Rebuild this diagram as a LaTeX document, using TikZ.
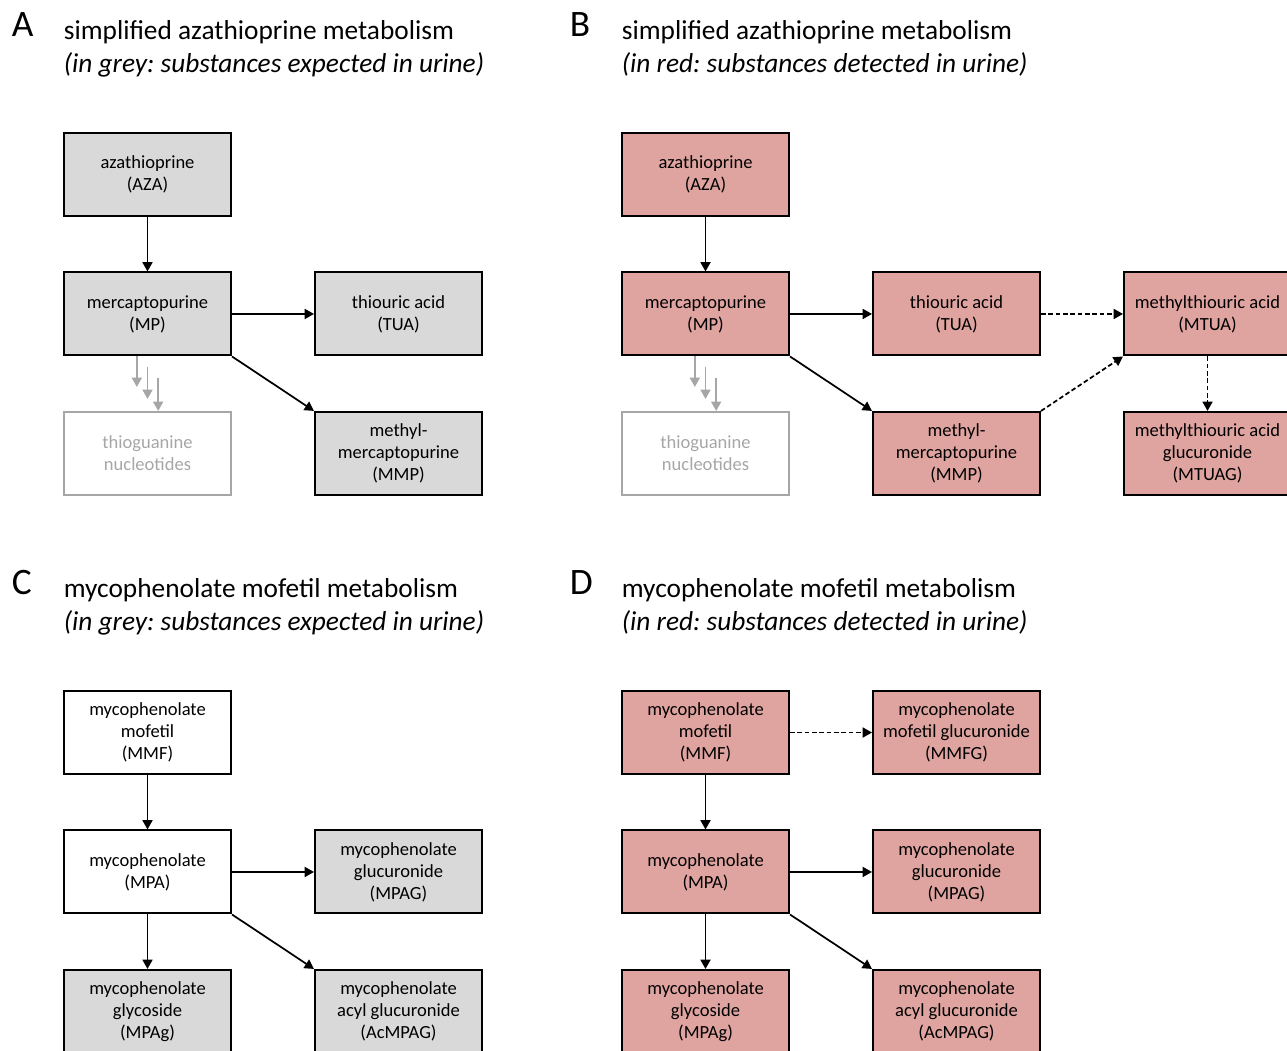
\documentclass[tikz,border=0pt]{standalone}
\usepackage{fontspec}
\setmainfont{Carlito}
\frenchspacing
\usetikzlibrary{positioning,arrows.meta}
\definecolor{boxgrey}{RGB}{217,217,217}
\definecolor{boxred}{RGB}{224,164,160}
\definecolor{fadegrey}{RGB}{166,166,166}

\begin{document}
\begin{tikzpicture}[x=0.75pt,y=-0.75pt,->,>={Triangle[length=7pt,width=7.5pt]},
    line width=1.3pt,node distance=104.6pt and 188.25pt,on grid,
    met/.style={draw,line width=1.5pt,minimum width=125.25pt,minimum height=62.25pt,
      inner sep=0pt,align=center,font=\fontsize{13.9}{16.5}\selectfont},
    exp/.style={met,fill=boxgrey},
    det/.style={met,fill=boxred},
    faded/.style={met,draw=fadegrey,text=fadegrey},
    lbl/.style={anchor=base west,inner sep=0pt,font=\fontsize{28}{32}\selectfont},
    ttl/.style={anchor=base west,inner sep=0pt,font=\fontsize{20.5}{24.7}\selectfont},
    maybe/.style={dash pattern=on 3.5pt off 2pt}]
  \useasboundingbox (0,0) rectangle (1287,1050);
  \clip (0,0) rectangle (1287,1050);

  % A
  \node[lbl] (labA) at (11,36) {A};
  \node[ttl] (titleA) at (63,39) {simplified azathioprine metabolism};
  \node[ttl] (noteA) at (63,72) {\itshape (in grey: substances expected in urine)};
  \node[exp] (azaA) at (147.5,174.5) {azathioprine\\(AZA)};
  \node[exp] (mpA) [below=of azaA] {mercaptopurine\\(MP)};
  \node[exp] (tuaA) [right=of mpA] {thiouric acid\\(TUA)};
  \node[faded] (tgnA) [below=of mpA] {thioguanine\\nucleotides};
  \node[exp] (mmpA) [below right=of mpA] {methyl-\\mercaptopurine\\(MMP)};
  \path (azaA) edge (mpA)
        (mpA) edge (tuaA)
        (mpA.south east) edge (mmpA.north west);
  \draw[fadegrey] ([xshift=-8pt]mpA.south) -- ([xshift=-8pt,yshift=18pt]tgnA.north);
  \draw[fadegrey] ([yshift=-8.25pt]mpA.south) -- ([yshift=9pt]tgnA.north);
  \draw[fadegrey] ([xshift=8pt,yshift=-16.5pt]mpA.south) -- ([xshift=8pt]tgnA.north);

  % B
  \node[lbl] (labB) at (569,36) {B};
  \node[ttl] (titleB) at (621,39) {simplified azathioprine metabolism};
  \node[ttl] (noteB) at (621,72) {\itshape (in red: substances detected in urine)};
  \node[det] (azaB) at (705.5,174.5) {azathioprine\\(AZA)};
  \node[det] (mpB) [below=of azaB] {mercaptopurine\\(MP)};
  \node[det] (tuaB) [right=of mpB] {thiouric acid\\(TUA)};
  \node[faded] (tgnB) [below=of mpB] {thioguanine\\nucleotides};
  \node[det] (mmpB) [below right=of mpB] {methyl-\\mercaptopurine\\(MMP)};
  \node[det] (mtuaB) [right=of tuaB] {methylthiouric acid\\(MTUA)};
  \node[det] (mtuagB) [below=of mtuaB] {methylthiouric acid\\glucuronide\\(MTUAG)};
  \path (azaB) edge (mpB)
        (mpB) edge (tuaB)
        (mpB.south east) edge (mmpB.north west);
  \path[maybe] (tuaB) edge (mtuaB)
        (mmpB.north east) edge (mtuaB.south west)
        (mtuaB) edge (mtuagB);
  \draw[fadegrey] ([xshift=-8pt]mpB.south) -- ([xshift=-8pt,yshift=18pt]tgnB.north);
  \draw[fadegrey] ([yshift=-8.25pt]mpB.south) -- ([yshift=9pt]tgnB.north);
  \draw[fadegrey] ([xshift=8pt,yshift=-16.5pt]mpB.south) -- ([xshift=8pt]tgnB.north);

  % C
  \node[lbl] (labC) at (11,594) {C};
  \node[ttl] (titleC) at (63,597) {mycophenolate mofetil metabolism};
  \node[ttl] (noteC) at (63,630) {\itshape (in grey: substances expected in urine)};
  \node[met] (mmfC) at (147.5,732.5) {mycophenolate\\mofetil\\(MMF)};
  \node[met] (mpaC) [below=of mmfC] {mycophenolate\\(MPA)};
  \node[exp] (mpagC) [right=of mpaC] {mycophenolate\\glucuronide\\(MPAG)};
  \node[exp] (mpaglyC) [below=of mpaC] {mycophenolate\\glycoside\\(MPAg)};
  \node[exp] (acmpagC) [below right=of mpaC] {mycophenolate\\acyl glucuronide\\(AcMPAG)};
  \path (mmfC) edge (mpaC)
        (mpaC) edge (mpagC)
        (mpaC) edge (mpaglyC)
        (mpaC.south east) edge (acmpagC.north west);

  % D
  \node[lbl] (labD) at (569,594) {D};
  \node[ttl] (titleD) at (621,597) {mycophenolate mofetil metabolism};
  \node[ttl] (noteD) at (621,630) {\itshape (in red: substances detected in urine)};
  \node[det] (mmfD) at (705.5,732.5) {mycophenolate\\mofetil\\(MMF)};
  \node[det] (mmfgD) [right=of mmfD] {mycophenolate\\mofetil glucuronide\\(MMFG)};
  \node[det] (mpaD) [below=of mmfD] {mycophenolate\\(MPA)};
  \node[det] (mpagD) [right=of mpaD] {mycophenolate\\glucuronide\\(MPAG)};
  \node[det] (mpaglyD) [below=of mpaD] {mycophenolate\\glycoside\\(MPAg)};
  \node[det] (acmpagD) [below right=of mpaD] {mycophenolate\\acyl glucuronide\\(AcMPAG)};
  \path (mmfD) edge (mpaD)
        (mpaD) edge (mpagD)
        (mpaD) edge (mpaglyD)
        (mpaD.south east) edge (acmpagD.north west);
  \path[maybe] (mmfD) edge (mmfgD);
\end{tikzpicture}
\end{document}
